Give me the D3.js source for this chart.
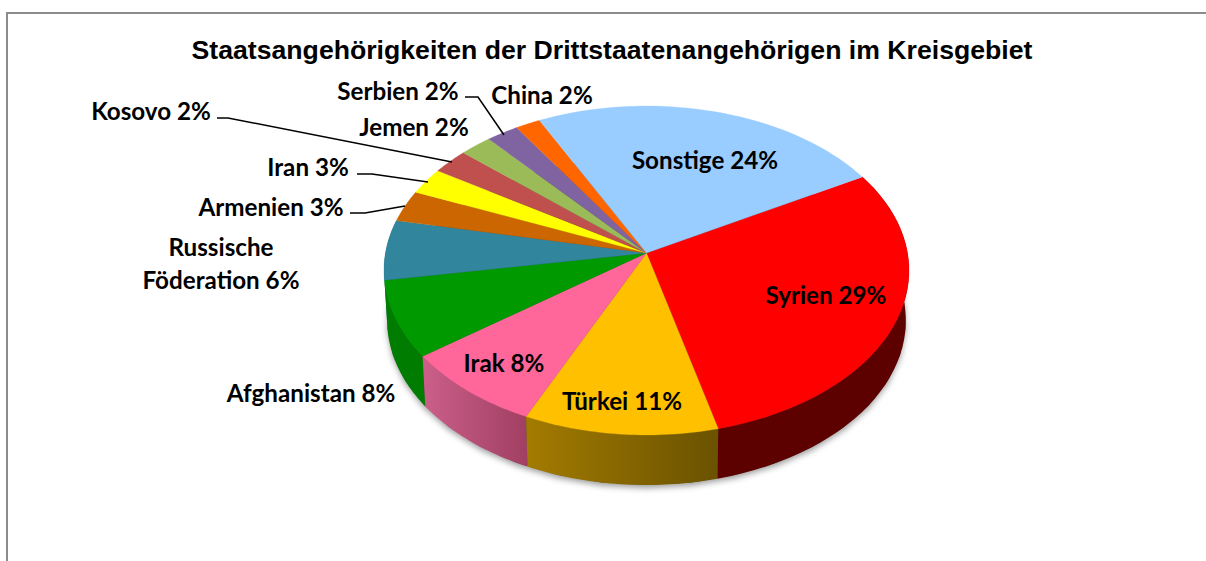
<!DOCTYPE html>
<html><head><meta charset="utf-8">
<script src="https://cdn.jsdelivr.net/npm/d3@7"></script>
<style>html,body{margin:0;padding:0;background:#fff;overflow:hidden}svg{display:block}</style>
</head><body><svg id="c" width="1206" height="561"></svg>
<script>
const titleText = "Staatsangehörigkeiten der Drittstaatenangehörigen im Kreisgebiet";
const categories = ["Syrien","Türkei","Irak","Afghanistan","Russische Föderation","Armenien","Iran","Kosovo","Jemen","Serbien","China","Sonstige"];
const values = [29.2,10.8,8.0,7.5,5.9,3.1,2.6,2.5,2.2,2.2,1.7,24.2];
const percentLabels = ["29%","11%","8%","8%","6%","3%","3%","2%","2%","2%","2%","24%"];
const colors = ["#ff0000","#ffc000","#ff6699","#009900","#31859c","#cc6600","#ffff00","#c0504d","#9bbb59","#8064a2","#ff6600","#99ccff"];
const wallFrom = ["#5c0000","#a37b00","#cb5f8a","#007c00","#256575","#9a4d00","#bfbf00","#903c3a","#748c43","#604b7a","#bf4d00","#7399bf"];
const wallTo   = ["#5c0000","#6a5200","#a13f62","#007c00","#256575","#9a4d00","#bfbf00","#903c3a","#748c43","#604b7a","#bf4d00","#7399bf"];

// layout (label anchor points and leader elbows), separate from the data
const labelAt = [[826,296],[622,402],[504,364],[311,394],[221,248],[271,208],[308,168],[151,112],[414,128],[398,92],[542,96],[705,161]];
const leaders = {5:[[350,213],[365,213],[405,206]],6:[[357,174],[372,174],[428,182]],7:[[217,118],[228,118],[452,162]],9:[[465,97],[478,97],[504,135]]};

const svg = d3.select("#c");
const defs = svg.append("defs");
const f = defs.append("filter").attr("id","sh").attr("x","-10%").attr("y","-10%").attr("width","120%").attr("height","125%");
f.append("feDropShadow").attr("dx",0).attr("dy",3).attr("stdDeviation",3).attr("flood-color","#000").attr("flood-opacity",0.4);

svg.append("rect").attr("x",7).attr("y",13).attr("width",1300).attr("height",700)
  .attr("fill","#fff").attr("stroke","#8c8c8c").attr("stroke-width",2);

svg.append("text").attr("x",612).attr("y",59).attr("text-anchor","middle")
  .attr("font-family","'Liberation Sans',Arial,sans-serif").attr("font-weight",700)
  .attr("font-size",26.65).attr("fill","#000").text(titleText);

// perspective projection of the unit disc
const cx=646.5, cy=253, ax=261, by=162.6, k=0.1064, depth=50, shrink=0.988;
const px=(a)=>{const u=Math.sin(a),v=-Math.cos(a),w=1-k*v;return [cx+ax*u/w,cy+by*v/w];};
const pxLow=(a)=>{const p=px(a);return [cx+(p[0]-cx)*shrink,p[1]+depth];};

const arcs = d3.pie().sort(null).value(d=>d).startAngle(60.5*Math.PI/180).endAngle((60.5+360)*Math.PI/180)(values);
const line = d3.line();
const samples=(a0,a1)=>d3.range(0,41).map(i=>a0+(a1-a0)*i/40);

// full silhouette carries the shadow
const all = samples(0,2*Math.PI);
svg.append("path").attr("d",line(all.map(pxLow))+"Z").attr("fill","#444").attr("filter","url(#sh)");

const grads = defs.selectAll("linearGradient").data(arcs).join("linearGradient")
  .attr("id",(d,i)=>"w"+i);
grads.append("stop").attr("offset",0).attr("stop-color",(d,i)=>wallFrom[i]);
grads.append("stop").attr("offset",1).attr("stop-color",(d,i)=>wallTo[i]);

// walls, drawn from the sides to the front
const order=[4,3,0,2,1];
svg.append("g").selectAll("path").data(order).join("path")
  .attr("fill",i=>`url(#w${i})`)
  .attr("d",i=>{const s=samples(arcs[i].startAngle,arcs[i].endAngle);
    return line(s.map(px).concat(s.slice().reverse().map(pxLow)))+"Z";});

// top face
svg.append("g").selectAll("path").data(arcs).join("path")
  .attr("fill",(d,i)=>colors[i]).attr("stroke",(d,i)=>colors[i]).attr("stroke-width",0.3)
  .attr("d",d=>line([[cx,cy]].concat(samples(d.startAngle,d.endAngle).map(px)))+"Z");

// leaders
svg.append("g").selectAll("path").data(Object.values(leaders)).join("path")
  .attr("d",d=>line(d)).attr("fill","none").attr("stroke","#000").attr("stroke-width",1.5);

// labels
const lab = svg.append("g").attr("font-family","Lato,Carlito,sans-serif").attr("font-weight",700)
  .attr("font-size",24.2).attr("fill","#000").attr("text-anchor","middle");
categories.forEach((c,i)=>{
  const [x,y]=labelAt[i];
  const t=lab.append("text").attr("x",x).attr("y",y).attr("dy","0.35em");
  if(c==="Russische Föderation"){
    t.text("Russische");
    lab.append("text").attr("x",x).attr("y",y+33).attr("dy","0.35em").text("Föderation "+percentLabels[i]);
  } else t.text(c+" "+percentLabels[i]);
});
</script></body></html>
